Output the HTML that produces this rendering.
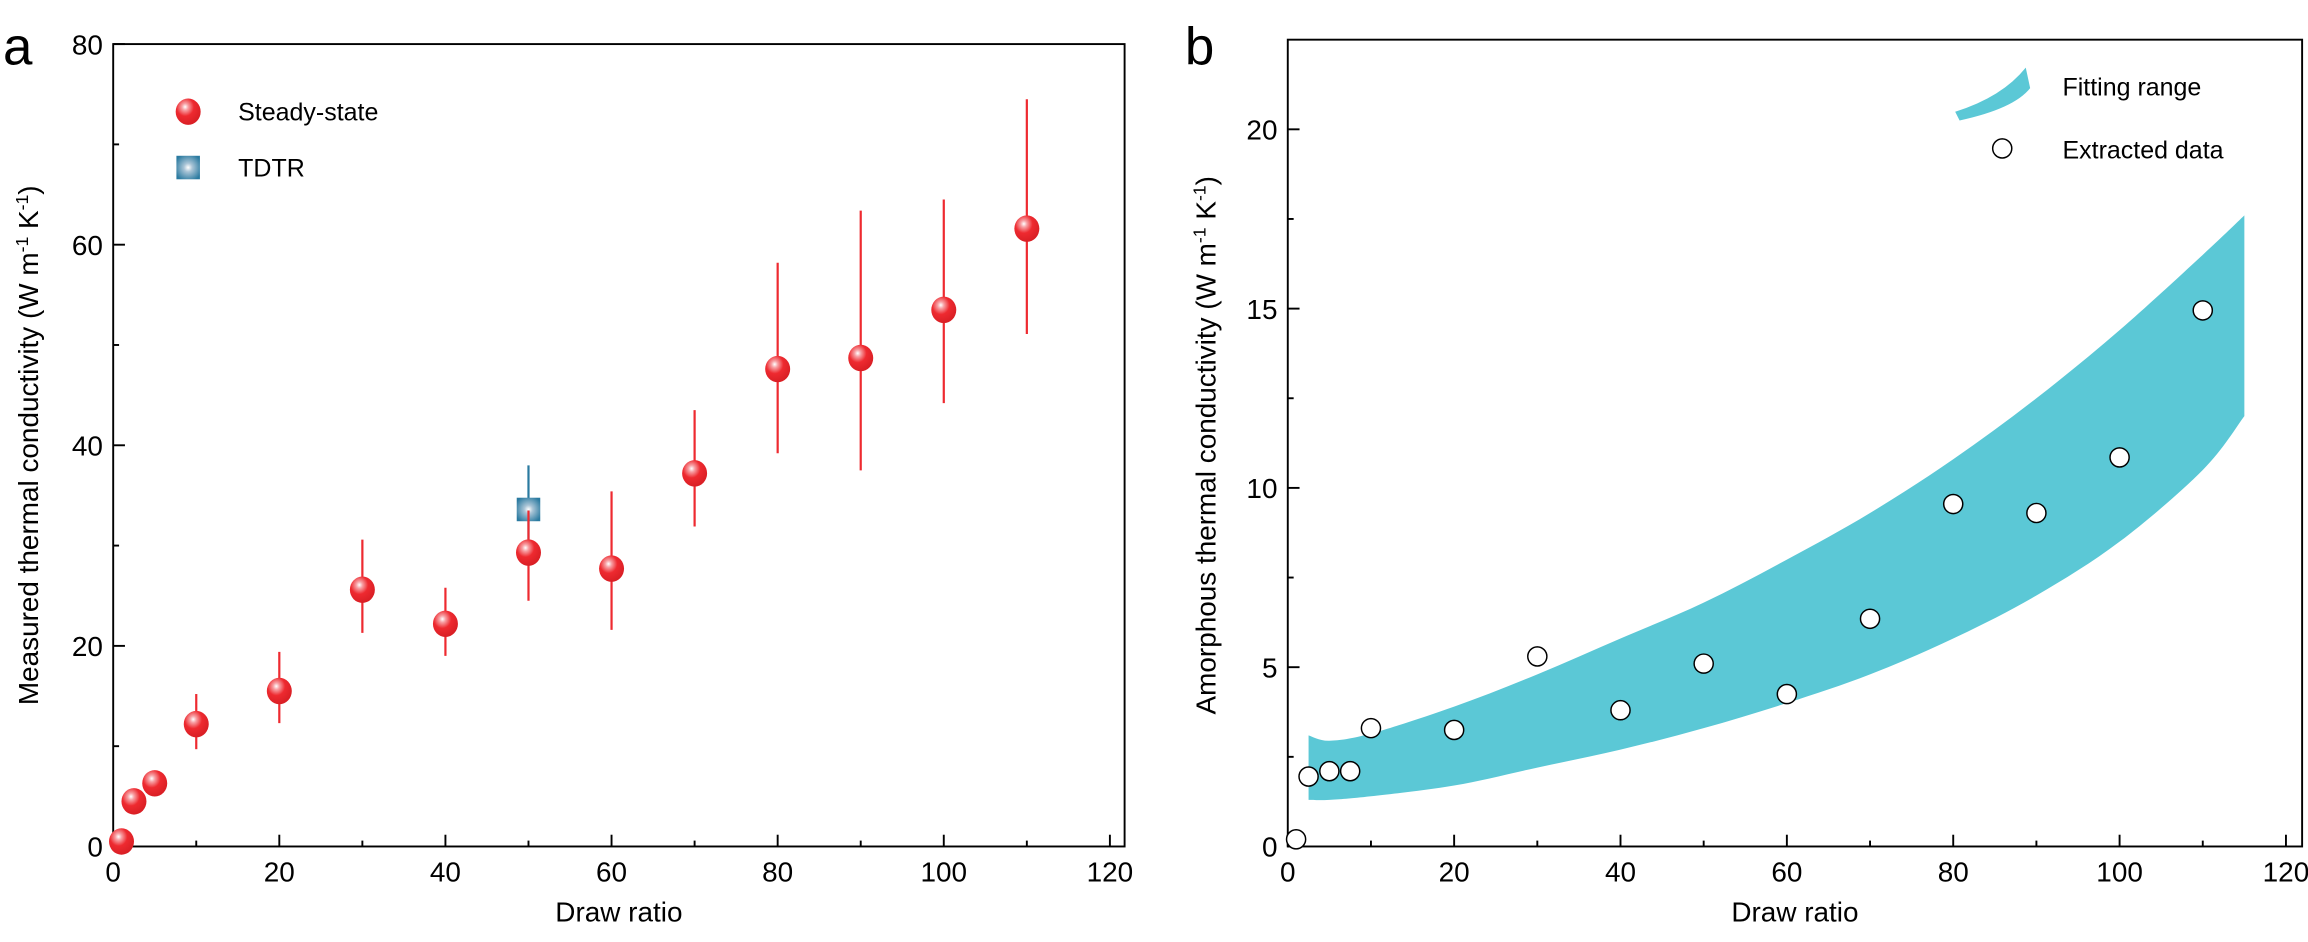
<!DOCTYPE html>
<html><head><meta charset="utf-8"><style>
html,body{margin:0;padding:0;background:#fff;}
svg{display:block;font-family:"Liberation Sans",Arial,sans-serif;}
</style></head><body>
<svg id="fig" width="2308" height="942" viewBox="0 0 1570 641" preserveAspectRatio="none">
<defs>
<radialGradient id="sph" cx="0.38" cy="0.32" r="0.7">
<stop offset="0" stop-color="#fff"/><stop offset="0.18" stop-color="#f7a0a4"/><stop offset="0.5" stop-color="#ee2a30"/><stop offset="1" stop-color="#d81e24"/></radialGradient>
<radialGradient id="sq" cx="0.5" cy="0.5" r="0.6">
<stop offset="0" stop-color="#fff"/><stop offset="0.3" stop-color="#a9c4d6"/><stop offset="1" stop-color="#2a7aa0"/></radialGradient>
</defs>
<g id="pa"></g>
<g id="pb"></g>
</svg>
<script>
// Panel a data
const aX = [1, 2.5, 5, 10, 20, 30, 40, 50, 60, 70, 80, 90, 100, 110];
const aY = [0.5, 4.5, 6.3, 12.2, 15.5, 25.6, 22.2, 29.3, 27.7, 37.2, 47.6, 48.7, 53.5, 61.6];
const aLo = [0.5, 4.5, 6.3, 9.7, 12.3, 21.3, 19.0, 24.5, 21.6, 31.9, 39.2, 37.5, 44.2, 51.1];
const aHi = [0.5, 4.5, 6.3, 15.2, 19.4, 30.6, 25.8, 33.5, 35.4, 43.5, 58.2, 63.4, 64.5, 74.5];
const tdtrX = [50];
const tdtrY = [33.6];
const tdtrHi = [38.0];
const aXTicks = [0, 20, 40, 60, 80, 100, 120];
const aYTicks = [0, 20, 40, 60, 80];
// Panel b data
const bandX = [2.5, 5, 10, 20, 30, 40, 50, 60, 70, 80, 90, 100, 110, 115];
const bandUp = [3.1, 2.95, 3.15, 3.9, 4.8, 5.8, 6.8, 8.0, 9.3, 10.8, 12.5, 14.4, 16.5, 17.6];
const bandLo = [1.3, 1.3, 1.4, 1.7, 2.2, 2.7, 3.3, 4.0, 4.8, 5.8, 7.0, 8.5, 10.5, 12.0];
const bX = [1, 2.5, 5, 7.5, 10, 20, 30, 40, 50, 60, 70, 80, 90, 100, 110];
const bY = [0.2, 1.95, 2.1, 2.1, 3.3, 3.25, 5.3, 3.8, 5.1, 4.25, 6.35, 9.55, 9.3, 10.85, 14.95];
const bXTicks = [0, 20, 40, 60, 80, 100, 120];
const bYTicks = [0, 5, 10, 15, 20];

const NS = "http://www.w3.org/2000/svg";
function mk(parent, tag, attrs, text) {
  const e = document.createElementNS(NS, tag);
  for (const k in attrs) e.setAttribute(k, attrs[k]);
  if (text !== undefined) e.textContent = text;
  parent.appendChild(e);
  return e;
}
function smooth(pts) {
  let d = "";
  for (let i = 0; i < pts.length - 1; i++) {
    const p0 = pts[Math.max(0, i - 1)], p1 = pts[i], p2 = pts[i + 1], p3 = pts[Math.min(pts.length - 1, i + 2)];
    const c1x = p1[0] + (p2[0] - p0[0]) / 6, c1y = p1[1] + (p2[1] - p0[1]) / 6;
    const c2x = p2[0] - (p3[0] - p1[0]) / 6, c2y = p2[1] - (p3[1] - p1[1]) / 6;
    d += " C" + c1x + "," + c1y + " " + c2x + "," + c2y + " " + p2[0] + "," + p2[1];
  }
  return d;
}
function axes(g, L, R, T, B, xs, ys, xMin, xMax, yMin, yMax, xT, yT, minorX, minorY) {
  const box = mk(g, "rect", {x: L, y: T, width: R - L, height: B - T, fill: "none", stroke: "#000", "stroke-width": 1.3});
  
  
  for (let v = xMin; v <= xMax + 1e-9; v += minorX) {
    const major = xT.some(t => Math.abs(t - v) < 1e-9);
    const l = mk(g, "line", {x1: xs(v), x2: xs(v), y1: B, y2: B - (major ? 8 : 4), stroke: "#000", "stroke-width": 1.3});
    
    
  }
  for (let v = yMin; v <= yMax + 1e-9; v += minorY) {
    const major = yT.some(t => Math.abs(t - v) < 1e-9);
    const l = mk(g, "line", {x1: L, x2: L + (major ? 8 : 4), y1: ys(v), y2: ys(v), stroke: "#000", "stroke-width": 1.3});
    
    
  }
  xT.forEach(t => {
    const tx = mk(g, "text", {x: xs(t), y: B + 24, "text-anchor": "middle", "font-size": 19}, String(t));
    
    
  });
  yT.forEach(t => {
    const tx = mk(g, "text", {x: L - 7, y: ys(t) + 7, "text-anchor": "end", "font-size": 19}, String(t));
    
    
  });
}

// ---- Panel a ----
(function () {
  const g = document.getElementById("pa");
  const L = 77, R = 765, T = 30, B = 576;
  const xs = v => 77 + v * (755 - 77) / 120;
  const ys = v => 576 - v * (576 - 30) / 80;
  axes(g, L, R, T, B, xs, ys, 0, 120, 0, 80, aXTicks, aYTicks, 10, 10);
  const lab = mk(g, "text", {x: 2, y: 44, "font-size": 36}, "a");
  
  
  const xt = mk(g, "text", {x: 421, y: 627, "text-anchor": "middle", "font-size": 19}, "Draw ratio");
  
  
  const yt = mk(g, "text", {transform: "translate(26,303) rotate(-90)", "text-anchor": "middle", "font-size": 19});
  yt.innerHTML = 'Measured thermal conductivity (W m<tspan dy="-7" font-size="12">-1</tspan><tspan dy="7"> K</tspan><tspan dy="-7" font-size="12">-1</tspan><tspan dy="7">)</tspan>';
  
  
  tdtrX.forEach((x, i) => {
    const e = mk(g, "line", {x1: xs(x), x2: xs(x), y1: ys(tdtrHi[i]), y2: ys(aY[aX.indexOf(x)] || tdtrY[i]), stroke: "#2a7aa0", "stroke-width": 1.5});
    
    
    const s = mk(g, "rect", {x: xs(x) - 8, y: ys(tdtrY[i]) - 8, width: 16, height: 16, fill: "url(#sq)"});
    
    
  });
  aX.forEach((x, i) => {
    if (aHi[i] > aLo[i]) {
      const e = mk(g, "line", {x1: xs(x), x2: xs(x), y1: ys(aHi[i]), y2: ys(aLo[i]), stroke: "#ee2a30", "stroke-width": 1.5});
      
      
    }
    const c = mk(g, "ellipse", {cx: xs(x), cy: ys(aY[i]), rx: 8.5, ry: 9, fill: "url(#sph)"});
    
    
  });
  const l1 = mk(g, "ellipse", {cx: 128, cy: 76, rx: 8.5, ry: 9, fill: "url(#sph)"});
  
  
  const l1t = mk(g, "text", {x: 162, y: 82, "font-size": 17}, "Steady-state");
  
  
  const l2 = mk(g, "rect", {x: 120, y: 106, width: 16, height: 16, fill: "url(#sq)"});
  
  
  const l2t = mk(g, "text", {x: 162, y: 120, "font-size": 17}, "TDTR");
  
  
})();

// ---- Panel b ----
(function () {
  const g = document.getElementById("pb");
  const L = 876, R = 1566, T = 27, B = 576;
  const xs = v => 876 + v * (1555 - 876) / 120;
  const ys = v => 576 - v * (576 - 88) / 20;
  const up = bandX.map((x, i) => [xs(x), ys(bandUp[i])]);
  const lo = bandX.map((x, i) => [xs(x), ys(bandLo[i])]).reverse();
  let d = "M" + up[0][0] + "," + up[0][1] + smooth(up);
  d += " L" + lo[0][0] + "," + lo[0][1] + smooth(lo) + " Z";
  const band = mk(g, "path", {d: d, fill: "#5bc8d6"});
  
  
  axes(g, L, R, T, B, xs, ys, 0, 120, 0, 20, bXTicks, bYTicks, 10, 2.5);
  const lab = mk(g, "text", {x: 806, y: 44, "font-size": 36}, "b");
  
  
  const xt = mk(g, "text", {x: 1221, y: 627, "text-anchor": "middle", "font-size": 19}, "Draw ratio");
  
  
  const yt = mk(g, "text", {transform: "translate(827,303) rotate(-90)", "text-anchor": "middle", "font-size": 19});
  yt.innerHTML = 'Amorphous thermal conductivity (W m<tspan dy="-7" font-size="12">-1</tspan><tspan dy="7"> K</tspan><tspan dy="-7" font-size="12">-1</tspan><tspan dy="7">)</tspan>';
  
  
  bX.forEach((x, i) => {
    const c = mk(g, "circle", {cx: xs(x), cy: ys(bY[i]), r: 6.5, fill: "#fff", stroke: "#000", "stroke-width": 1});
    
    
  });
  const li = mk(g, "path", {d: "M1330,76 Q1362,66 1378,46 L1381,60 Q1370,74 1333,82 Z", fill: "#5bc8d6"});
  
  
  const lt = mk(g, "text", {x: 1403, y: 65, "font-size": 17}, "Fitting range");
  
  
  const lc = mk(g, "circle", {cx: 1362, cy: 101, r: 6.5, fill: "#fff", stroke: "#000", "stroke-width": 1});
  
  
  const lt2 = mk(g, "text", {x: 1403, y: 108, "font-size": 17}, "Extracted data");
  
  
})();
</script>
</body></html>
